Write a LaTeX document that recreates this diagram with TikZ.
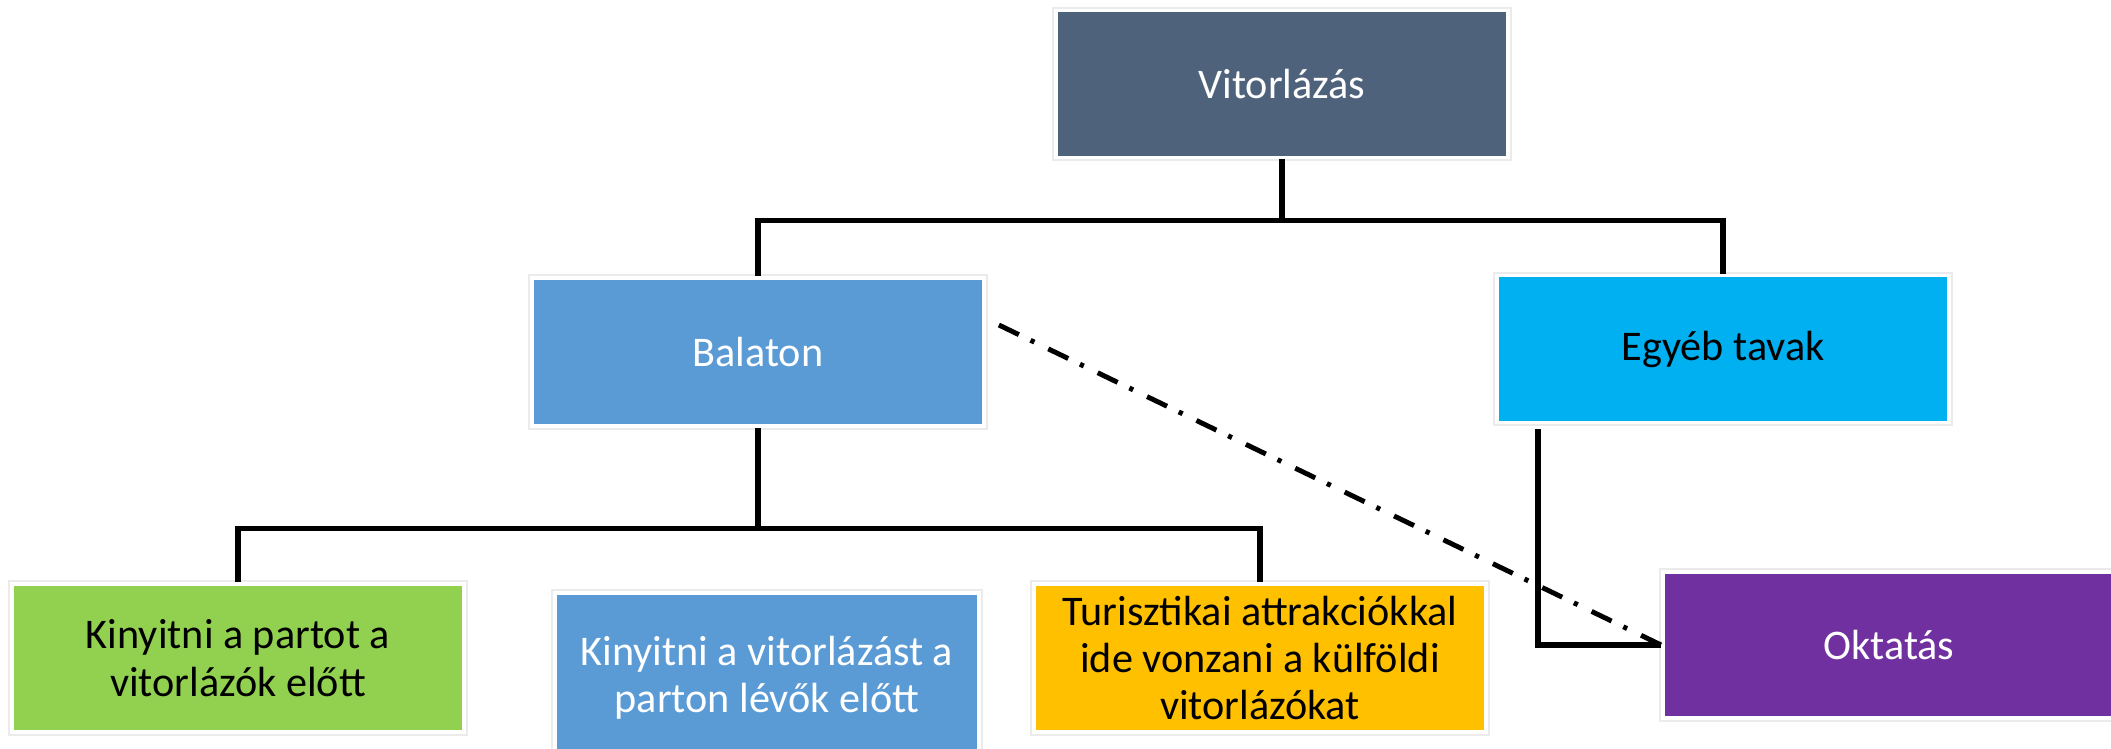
\documentclass[tikz,border=0pt]{standalone}
\usepackage{fontspec}
\setmainfont{Carlito}
\usepackage{tikz}
\usetikzlibrary{positioning}
\usepackage{xcolor}
\definecolor{palafekete}{HTML}{4F627C}
\definecolor{balatonkek}{HTML}{5B9BD5}
\definecolor{egkek}{HTML}{00B0F0}
\definecolor{lila}{HTML}{7030A0}
\definecolor{zold}{HTML}{92D050}
\definecolor{narancs}{HTML}{FFC000}

\begin{document}
\begin{tikzpicture}[x=0.01cm, y=-0.01cm,
    doboz/.style={rectangle, fill=#1, draw=white, line width=1pt,
        preaction={draw=black!8, line width=2pt},
        minimum width=4.52cm, minimum height=1.47cm, align=center,
        font=\fontsize{12}{13.5}\selectfont},
    vonal/.style={line width=1.5pt, black},
    pontvonal/.style={line width=1.4pt, black,
        dash pattern=on 6.3pt off 3.7pt on 1.2pt off 4.4pt}]
    \useasboundingbox (0,0) rectangle (2111,749);
    % Dobozok
    \node[doboz=palafekete, text=white] (vit) at (1282,84) {Vitorlázás};
    \node[doboz=balatonkek, text=white, minimum height=1.48cm] (bal) at (758,352) {Balaton};
    \node[doboz=egkek] (egy) at (1723,349) {Egyéb tavak};
    \node[doboz=lila, text=white, minimum height=1.46cm] (okt) at (1889,645) {Oktatás};
    \node[doboz=zold, minimum height=1.48cm] (part) at (238,658) {Kinyitni a partot a\\vitorlázók előtt};
    \node[doboz=balatonkek, text=white, minimum width=4.24cm, minimum height=1.7cm] (parton) at (767,678)
        {Kinyitni a vitorlázást a\\parton lévők előtt};
    \node[doboz=narancs] (tur) at (1260,658)
        {Turisztikai attrakciókkal\\ide vonzani a külföldi\\vitorlázókat};
    % Összekötők
    \draw[vonal] (vit.south) -- ++(0,61) -| (bal.north);
    \draw[vonal] (vit.south) ++(0,61) -| (egy.north);
    \draw[vonal] (bal.south) -- ++(0,101) -| (part.north);
    \draw[vonal] (bal.south) ++(0,101) -| (tur.north);
    \draw[vonal] ([shift={(43,5)}]egy.south west) |- (okt.west);
    % Szaggatott-pontozott kapcsolat
    \draw[pontvonal] ([shift={(13,-27)}]bal.east) -- (okt.west);
\end{tikzpicture}
\end{document}
